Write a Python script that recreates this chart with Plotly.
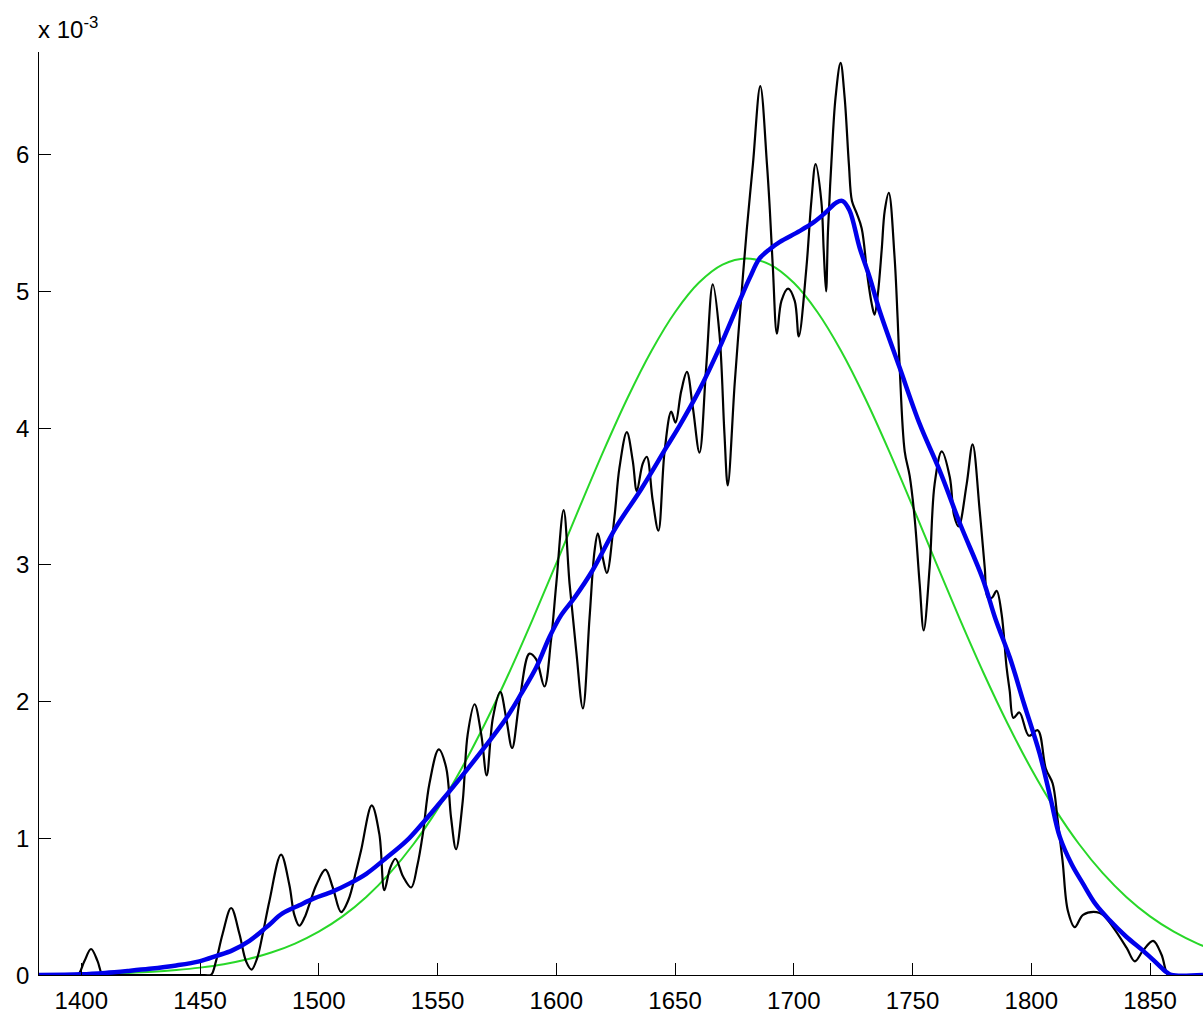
import plotly.graph_objects as go

# Density estimates, values in units of 1e-3
# narrow-bandwidth kernel estimate (black)
black_x = [1382.2, 1396, 1398.5, 1401.3, 1404.1, 1406.9, 1409, 1412, 1430, 1452, 1454.6, 1456.7,
           1459.5, 1463.1, 1466.6, 1469.4, 1471.7, 1474, 1476.4, 1479.2, 1484.1, 1487.6, 1489.7,
           1491.8, 1494, 1496.1, 1499, 1502.8, 1505.9, 1509.4, 1512.5, 1515.7, 1517.8, 1522.3,
           1525.5, 1527.6, 1530, 1532.3, 1535.5, 1538.9, 1541.5, 1543.8, 1546.6, 1550.5, 1553.6,
           1555.7, 1557.8, 1560.6, 1562.7, 1565.6, 1568.4, 1570.7, 1573.3, 1576.4, 1578.9, 1581.4,
           1584.5, 1588.7, 1591.5, 1595.0, 1597.8, 1600, 1603.1, 1605.6, 1608.4, 1611.2, 1614,
           1616.1, 1617.5, 1619.6, 1621.3, 1624.5, 1626.6, 1629.7, 1632.2, 1633.9, 1636.4, 1638.1,
           1640.6, 1643.0, 1645.6, 1648.4, 1650.2, 1652.6, 1655.0, 1657.5, 1660.3, 1663.1, 1665.9,
           1668.7, 1670.8, 1672.2, 1675.1, 1677.4, 1680.2, 1682.8, 1685.9, 1688.7, 1689.9, 1691.2,
           1692.9, 1694.8, 1697.6, 1700.4, 1702.1, 1705.3, 1707.4, 1709.2, 1711.6, 1712.6, 1713.6,
           1714.4, 1715.8, 1717.6, 1719.7, 1721.4, 1723.2, 1724.5, 1726.5, 1728.6, 1731.1, 1732.8,
           1734.0, 1735.4, 1737.0, 1738.3, 1740.0, 1742.4, 1743.7, 1744.6, 1746.7, 1748.8, 1750.9,
           1753.0, 1754.7, 1757.2, 1759.3, 1762.3, 1765.7, 1767.5, 1769.4, 1772.8, 1775.3, 1778.3,
           1780.4, 1781.7, 1783.5, 1785.4, 1787.5, 1789.6, 1790.9, 1792.5, 1795, 1799, 1802.7,
           1806.1, 1809, 1811, 1813.2, 1815.4, 1818.3, 1821.8, 1827.5, 1830.2, 1834.4, 1840.1,
           1843.6, 1847.1, 1851.3, 1854.8, 1857.6, 1860, 1872.3]
black_y = [0, 0, 0, 0.10, 0.19, 0.10, 0, 0, 0, 0, 0, 0.10,
           0.30, 0.49, 0.30, 0.10, 0.04, 0.12, 0.30, 0.54, 0.88, 0.66, 0.44,
           0.36, 0.42, 0.52, 0.66, 0.77, 0.64, 0.46, 0.55, 0.76, 0.91, 1.24,
           1.03, 0.62, 0.78, 0.85, 0.72, 0.64, 0.80, 1.03, 1.40, 1.65, 1.52,
           1.15, 0.92, 1.27, 1.76, 1.98, 1.76, 1.46, 1.88, 2.07, 1.88, 1.66,
           2.00, 2.35, 2.31, 2.11, 2.45, 2.86, 3.40, 2.86, 2.37, 1.95, 2.61,
           3.10, 3.23, 3.05, 2.94, 3.35, 3.71, 3.97, 3.76, 3.54, 3.74, 3.79,
           3.47, 3.25, 3.83, 4.12, 4.04, 4.27, 4.41, 4.15, 3.82, 4.44, 5.05,
           4.69, 3.96, 3.58, 4.32, 4.85, 5.45, 5.93, 6.50, 5.93, 5.60, 5.17,
           4.69, 4.93, 5.02, 4.93, 4.67, 5.17, 5.66, 5.93, 5.66, 5.30, 5.00,
           5.44, 5.93, 6.42, 6.67, 6.42, 5.93, 5.66, 5.57, 5.46, 5.10, 4.91,
           4.83, 4.98, 5.30, 5.59, 5.72, 5.26, 4.81, 4.44, 3.83, 3.65, 3.34,
           2.86, 2.52, 2.98, 3.59, 3.83, 3.64, 3.36, 3.28, 3.59, 3.88, 3.39,
           2.98, 2.76, 2.76, 2.81, 2.64, 2.25, 2.08, 1.88, 1.92, 1.75, 1.79,
           1.51, 1.40, 1.15, 0.83, 0.47, 0.35, 0.44, 0.46, 0.44, 0.35, 0.20,
           0.10, 0.18, 0.25, 0.15, 0, 0, 0]

# wide-bandwidth kernel estimate (blue)
blue_x = [1382.2, 1400, 1410, 1420, 1428.7, 1440, 1449.7, 1457, 1463.6, 1470.8, 1478, 1484.7,
          1491.8, 1498, 1505.7, 1513, 1520, 1528, 1536.9, 1543.7, 1552, 1560.5, 1570, 1579,
          1585, 1591.6, 1597.1, 1602, 1607.7, 1615.3, 1625, 1636, 1646.4, 1652, 1660, 1668.8,
          1677.2, 1681.5, 1685.6, 1690, 1694, 1702.4, 1708, 1713, 1718, 1720.6, 1723.5, 1727.7,
          1732, 1736.1, 1744.6, 1753, 1761.4, 1770, 1779.5, 1785, 1791, 1797, 1803.5, 1808,
          1812, 1817, 1821.7, 1827, 1833, 1840, 1846.9, 1852, 1857, 1859, 1872.3]
blue_y = [0, 0.005, 0.015, 0.03, 0.045, 0.07, 0.10, 0.14, 0.18, 0.25, 0.35, 0.45,
          0.51, 0.56, 0.61, 0.67, 0.74, 0.85, 0.98, 1.11, 1.28, 1.46, 1.67, 1.88,
          2.05, 2.25, 2.47, 2.63, 2.76, 2.96, 3.27, 3.56, 3.86, 4.02, 4.27, 4.59,
          4.93, 5.10, 5.24, 5.31, 5.36, 5.44, 5.50, 5.57, 5.65, 5.66, 5.59, 5.32,
          5.10, 4.86, 4.44, 4.03, 3.69, 3.30, 2.90, 2.60, 2.32, 1.98, 1.62, 1.30,
          1.01, 0.81, 0.67, 0.52, 0.40, 0.28, 0.18, 0.10, 0.02, 0, 0]

# fitted normal density (green)
green_x = list(range(1380, 1881, 10))
green_y = [0.002, 0.004, 0.006, 0.010, 0.015, 0.023, 0.036, 0.054, 0.079, 0.115, 0.164,
           0.230, 0.317, 0.429, 0.571, 0.747, 0.960, 1.213, 1.507, 1.839, 2.205, 2.599,
           3.011, 3.429, 3.837, 4.220, 4.562, 4.847, 5.062, 5.195, 5.240, 5.195, 5.062,
           4.847, 4.562, 4.220, 3.837, 3.429, 3.011, 2.599, 2.205, 1.839, 1.507, 1.213,
           0.960, 0.747, 0.571, 0.429, 0.317, 0.230, 0.164]

x_ticks = [1400, 1450, 1500, 1550, 1600, 1650, 1700, 1750, 1800, 1850]
y_ticks = [0, 1, 2, 3, 4, 5, 6]

FONT = "Liberation Sans, Arial, Helvetica, sans-serif"
TICK_FONT = dict(family=FONT, size=24, color="black")

fig = go.Figure()
fig.add_trace(go.Scatter(x=green_x, y=green_y, mode="lines",
                         line=dict(color="rgb(40,215,40)", width=2, shape="spline"),
                         hoverinfo="skip"))
fig.add_trace(go.Scatter(x=black_x, y=black_y, mode="lines",
                         line=dict(color="black", width=2.2, shape="spline", smoothing=1.0),
                         hoverinfo="skip"))
fig.add_trace(go.Scatter(x=blue_x, y=blue_y, mode="lines",
                         line=dict(color="rgb(0,0,235)", width=4.5, shape="spline", smoothing=1.0),
                         hoverinfo="skip"))

axis_common = dict(
    showline=True, linecolor="black", linewidth=1, mirror=False,
    showgrid=False, zeroline=False,
    ticks="inside", ticklen=12, tickwidth=1, tickcolor="black",
    tickfont=TICK_FONT,
)

# y tick labels placed just left of the axis line
y_labels = [dict(text=str(v), xref="paper", yref="y", x=0, y=v,
                 xanchor="right", yanchor="middle", xshift=-8,
                 showarrow=False, font=TICK_FONT) for v in y_ticks]

exponent = dict(text="x 10<sup>-3</sup>", xref="paper", yref="paper",
                x=0, y=1, xanchor="left", yanchor="bottom", xshift=-3, yshift=7,
                showarrow=False, font=TICK_FONT)

fig.update_layout(
    width=1203, height=1016,
    margin=dict(l=39, r=0, t=52, b=41, pad=0),
    paper_bgcolor="white", plot_bgcolor="white",
    showlegend=False,
    xaxis=dict(range=[1382.2, 1872.3], tickvals=x_ticks,
               ticktext=[str(v) for v in x_ticks], ticklabelstandoff=4, **axis_common),
    yaxis=dict(range=[0, 6.75], tickvals=y_ticks, showticklabels=False, **axis_common),
    annotations=y_labels + [exponent],
)

fig.write_html("out.html")
